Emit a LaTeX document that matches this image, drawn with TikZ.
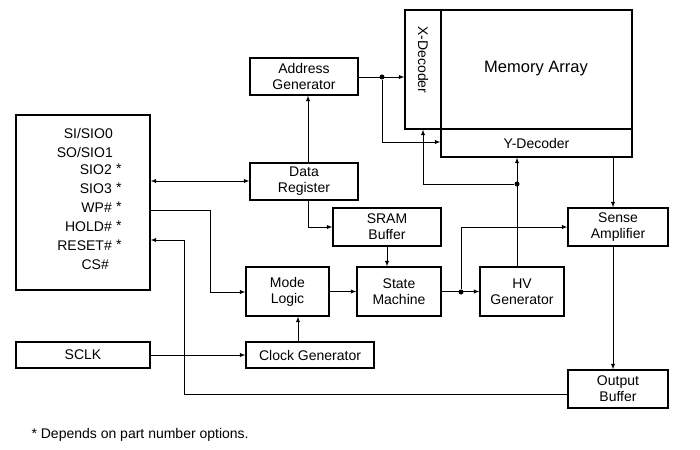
\documentclass[tikz,border=0pt]{standalone}
\usepackage{fontspec}
\setmainfont{Liberation Sans}
\begin{document}
\begin{tikzpicture}[x=1pt,y=-1pt,
  box/.style={draw,line width=1.3pt,align=center,inner sep=0pt,font=\fontsize{14}{16}\selectfont},
  pin/.style={anchor=east,inner sep=0pt,font=\fontsize{14}{16}\selectfont},
  ln/.style={line width=0.9pt,-latex},
  dot/.style={circle,fill,inner sep=0pt,minimum size=5pt}]
\useasboundingbox (0,0) rectangle (700,449);
\newcommand{\bx}[6]{\node[box,minimum width=#4-#2,minimum height=#5-#3] (#1) at ({(#2+#4)/2},{(#3+#5)/2}) {#6};}
\bx{pins}{16}{115}{150}{290}{}
\bx{sclk}{16}{342}{150}{368}{SCLK}
\bx{ag}{250}{58}{358}{95}{Address\\Generator}
\bx{dr}{250}{163}{358}{200}{Data\\Register}
\bx{sram}{333}{208}{441}{246}{SRAM\\Buffer}
\bx{ml}{246}{267}{329}{316}{Mode\\Logic}
\bx{sm}{357}{267}{441}{316}{State\\Machine}
\bx{hv}{480}{267}{564}{316}{HV\\Generator}
\bx{sa}{568}{208}{668}{246}{Sense\\Amplifier}
\bx{ob}{568}{370}{668}{408}{Output\\Buffer}
\bx{cg}{246}{342}{374}{368}{Clock Generator}
\bx{xd}{405}{10}{441}{129}{}
\node[rotate=-90,font=\fontsize{14}{16}\selectfont] (xdl) at (423,60) {X-Decoder};
\bx{ma}{441}{10}{632}{129}{}
\node[font=\fontsize{16.5}{19}\selectfont] (mal) at (536,69) {Memory Array};
\bx{yd}{441}{129}{632}{157}{Y-Decoder}
% pin labels
\node[pin] (p1) at (113,133) {SI/SIO0};
\node[pin] (p2) at (113,152) {SO/SIO1};
\node[pin] (p3) at (112,170) {SIO2};
\node[pin] (p4) at (112,189) {SIO3};
\node[pin] (p5) at (112,208) {WP\#};
\node[pin] (p6) at (112,227) {HOLD\#};
\node[pin] (p7) at (112,246) {RESET\#};
\node[pin] (p8) at (109,265) {CS\#};
\foreach \y in {170,189,208,227,246} \node[pin,anchor=west] at (116,\y-1) {*};
% connectors
\coordinate (a1) at (382,77);
\node[dot] (d1) at (a1) {};
\draw[ln] (ag.east|-a1) -- (xd.west|-a1);
\draw[ln] (d1) |- (yd.west|-0,142);
\draw[ln] (dr.north-|308,0) -- (ag.south-|308,0);
\draw[ln,latex-latex] (pins.east|-0,181) -- (dr.west|-0,181);
\draw[ln] (dr.south-|308,0) |- (sram.west|-0,227);
\draw[ln] (sram.south) -- (sram.south|-sm.north);
\draw[ln] (ml) -- (sm);
\node[dot] (d2) at (461,292) {};
\draw[ln] (sm) -- (hv);
\draw[ln] (d2) |- (sa.west|-0,227);
\draw[ln] (hv.north-|517,0) -- (yd.south-|517,0);
\node[dot] (d3) at (517,184) {};
\draw[ln] (d3) -| (xd.south-|423,0);
\draw[ln] (yd.south-|613,0) -- (sa.north-|613,0);
\draw[ln] (sa.south-|613,0) -- (ob.north-|613,0);
\draw[ln] (ob.west|-0,394) -| (184,240) -- (pins.east|-0,240);
\draw[ln] (pins.east|-0,210) -| (210,292) -- (ml.west|-0,292);
\draw[ln] (sclk) -- (cg);
\draw[ln] (cg.north-|298,0) -- (ml.south-|298,0);
\node[anchor=west,font=\fontsize{14}{16}\selectfont] (fn) at (28,435) {* Depends on part number options.};
\end{tikzpicture}
\end{document}
